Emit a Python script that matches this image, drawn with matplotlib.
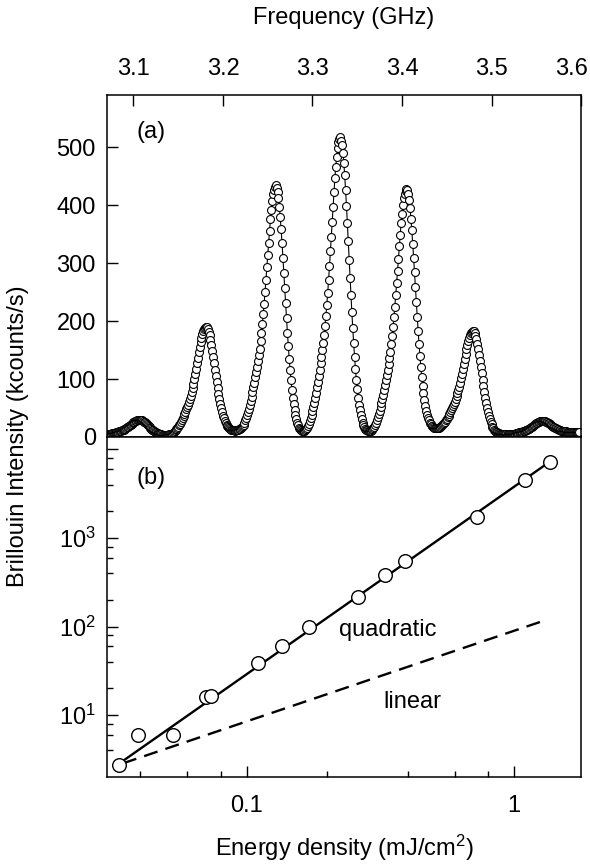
import numpy as np
import matplotlib
matplotlib.use('Agg')
import matplotlib.pyplot as plt
from matplotlib.ticker import FixedLocator, FixedFormatter, NullFormatter
from matplotlib.transforms import ScaledTranslation

plt.rcParams['font.family'] = ['Liberation Sans', 'DejaVu Sans']
plt.rcParams['mathtext.fontset'] = 'custom'
plt.rcParams['mathtext.rm'] = 'Liberation Sans'
plt.rcParams['mathtext.it'] = 'Liberation Sans:italic'

# (a) Brillouin spectrum (kcounts/s), one reading every 1 MHz starting at 3.071 GHz
freq_start = 3.071
freq_step = 0.001
spectrum = [
    # up to first small side peak (3.107 GHz)
    4.7, 4.9, 5.1, 5.4, 5.7, 6.1, 6.4, 6.8, 7.2, 7.6,
    8.1, 8.6, 9.1, 9.7, 10.2, 10.8, 11.4, 12.0, 12.7, 13.5,
    14.3, 15.3, 16.4, 17.5, 18.7, 20.0, 21.3, 22.6, 23.9, 25.1,
    26.4, 27.4, 28.3, 29.0, 29.5, 29.8, 30.0,
    29.9, 29.4, 28.8, 27.8, 26.7, 25.3, 23.9, 22.3, 20.6, 19.0,
    17.3, 15.7, 14.1, 12.6, 11.3, 10.0, 8.9, 7.9, 7.0, 6.3,
    5.7, 5.1, 4.7, 4.3, 4.0, 3.8, 3.6, 3.4, 3.7, 3.7,
    # second peak (3.181 GHz)
    3.9, 4.0, 4.4, 4.7, 5.2, 6.0, 6.9, 8.0, 9.5, 11.2,
    13.1, 15.3, 17.8, 20.2, 23.0, 26.0, 29.2, 32.7, 36.3, 39.8,
    43.8, 47.7, 51.6, 55.9, 60.6, 65.6, 71.3, 77.4, 84.3, 91.8,
    99.9, 108.7, 118.0, 127.4, 136.7, 146.1, 155.0, 163.8, 171.1, 177.5,
    182.9, 186.4, 188.7, 190.0,
    189.1, 186.3, 181.7, 175.5, 167.8, 159.0, 149.1, 138.5, 127.6, 116.4,
    105.2, 94.4, 84.0, 74.2, 65.1, 56.8, 49.4, 42.7, 36.9, 32.0,
    27.7, 24.1, 21.1, 18.7, 16.7, 15.1, 13.9, 12.9, 12.2, 11.6,
    11.2, 10.8, 11.5, 11.5, 11.9,
    # third peak (3.259 GHz)
    12.3, 13.0, 14.0, 15.1, 16.8, 18.9, 21.5, 24.9, 28.7, 33.0,
    38.1, 43.6, 49.1, 55.5, 62.3, 69.5, 77.6, 85.7, 93.7, 102.7,
    111.6, 120.5, 130.3, 140.9, 152.4, 165.1, 179.2, 194.9, 211.9, 230.2,
    250.1, 271.4, 292.6, 313.9, 335.1, 355.5, 375.5, 392.1, 406.5, 418.9,
    426.9, 432.0, 435.0,
    429.8, 423.1, 412.2, 397.5, 379.3, 358.2, 334.7, 309.6, 283.5, 256.9,
    230.5, 204.7, 180.0, 156.6, 135.1, 115.3, 97.6, 81.9, 68.1, 56.2,
    46.1, 37.6, 30.5, 24.7, 20.0, 16.2, 14.2, 12.3, 11.0, 10.4,
    10.3, 10.8, 11.6, 13.2, 15.5, 18.4,
    # central peak (3.331 GHz)
    22.3, 26.8, 31.9, 37.9, 44.6, 51.3, 59.0, 67.2, 76.0, 85.7,
    95.5, 105.3, 116.1, 126.8, 137.6, 149.5, 162.3, 176.2, 191.6, 208.6,
    227.6, 248.2, 270.3, 294.4, 320.1, 345.8, 371.5, 397.2, 421.9, 446.0,
    466.1, 483.6, 498.5, 508.2, 514.4, 518.0,
    511.4, 503.4, 490.5, 473.0, 451.4, 426.4, 398.5, 368.8, 337.8, 306.2,
    274.8, 244.2, 214.8, 187.2, 161.5, 138.1, 117.1, 98.4, 82.0, 68.0,
    55.9, 45.8, 37.4, 30.5, 24.9, 20.5, 17.0, 14.2, 12.9, 11.6,
    10.9, 10.4, 10.7, 11.1, 11.9, 13.4,
    # fifth peak (3.405 GHz)
    15.3, 17.6, 20.9, 24.6, 28.8, 33.9, 39.3, 44.8, 51.2, 57.9,
    65.1, 73.1, 81.1, 89.1, 98.0, 106.9, 115.7, 125.4, 136.0, 147.4,
    160.0, 174.0, 189.6, 206.5, 224.6, 244.4, 265.5, 286.6, 307.7, 328.8,
    349.1, 368.9, 385.4, 399.7, 412.0, 420.0, 425.0, 428.0,
    425.8, 419.4, 408.8, 394.5, 376.9, 356.4, 333.7, 309.4, 284.0, 258.3,
    232.6, 207.6, 183.6, 161.0, 140.1, 120.9, 103.8, 88.5, 75.1, 63.6,
    53.8, 45.5, 38.7, 33.0, 28.5, 24.9, 22.0, 19.7, 18.3, 17.2,
    16.3, 15.8, 15.6, 15.6, 15.7, 16.2,
    # sixth peak (3.479 GHz)
    16.9, 17.8, 19.1, 20.5, 22.2, 24.2, 26.4, 28.6, 31.2, 33.9,
    36.8, 40.0, 43.3, 46.5, 50.1, 53.6, 57.2, 61.1, 65.4, 70.0,
    75.1, 80.7, 87.0, 93.8, 101.1, 109.1, 117.6, 126.1, 134.6, 143.1,
    151.2, 159.2, 165.8, 171.6, 176.5, 179.8, 181.8, 183.0,
    182.1, 179.3, 174.7, 168.5, 160.9, 152.1, 142.3, 131.8, 120.9, 109.8,
    98.7, 87.9, 77.6, 67.8, 58.8, 50.6, 43.1, 36.6, 30.8, 25.8,
    21.6, 18.0, 15.1, 12.6, 10.7, 9.1, 7.9, 6.9, 6.1, 5.6,
    5.1, 4.8, 4.6, 4.4, 4.4, 4.3,
    # last small side peak (3.557 GHz)
    4.3, 4.2, 4.3, 4.4, 4.5, 4.6, 4.8, 5.1, 5.3, 5.6,
    5.9, 6.2, 6.6, 7.0, 7.4, 7.8, 8.3, 8.7, 9.2, 9.7,
    10.2, 10.8, 11.4, 12.0, 12.8, 13.6, 14.4, 15.4, 16.4, 17.6,
    18.8, 20.0, 21.2, 22.4, 23.5, 24.6, 25.6, 26.4, 27.1, 27.5,
    27.8, 28.0,
    27.9, 27.6, 27.1, 26.5, 25.7, 24.7, 23.7, 22.6, 21.4, 20.2,
    19.1, 17.9, 16.8, 15.8, 14.8, 13.9, 13.2, 12.5, 11.8, 11.3,
    10.9, 10.5, 10.2, 9.9, 9.7, 9.5, 9.4, 9.3, 9.2, 9.2,
    9.1, 9.1, 9.1, 9.0, 9.0, 9.0, 9.0, 9.0, 9.0, 9.0,
    9.0,
]
freq_ticks = [3.1, 3.2, 3.3, 3.4, 3.5, 3.6]
counts_ticks = [0, 100, 200, 300, 400, 500]

# (b) peak intensity vs pump energy density
energy = [0.0335, 0.0394, 0.0531, 0.0706, 0.0734, 0.1106, 0.1357,
          0.171, 0.2606, 0.328, 0.390, 0.727, 1.10, 1.36]
peak_intensity = [2.73, 5.96, 5.96, 15.9, 16.6, 38.6, 59.5,
                  98.5, 213, 385, 553, 1730, 4480, 7250]
quad_x = [0.0335, 1.36]
quad_y = [2.85, 7250]
lin_x = [0.0345, 1.30]
lin_y = [2.85, 117]

freq = freq_start + freq_step * np.arange(len(spectrum))

fig = plt.figure(figsize=(5.9, 8.66), dpi=100)
ax_a = fig.add_axes([0.1814, 0.4954, 0.8034, 0.3949])
ax_b = fig.add_axes([0.1814, 0.1028, 0.8034, 0.3926])

fs = 17

# ---- panel (a)
ax_a.plot(freq, spectrum, '-o', color='black', lw=0.8, ms=5.7,
          mfc='white', mec='black', mew=0.8)
ax_a.set_xlim(3.0705, 3.598)
ax_a.set_ylim(0, 590)
ax_a.xaxis.tick_top()
ax_a.set_xticks(freq_ticks)
ax_a.set_xticklabels([f'{t:.1f}' for t in freq_ticks])
ax_a.set_yticks(counts_ticks)
ax_a.tick_params(axis='x', which='both', direction='in', length=8, width=1,
                 labelsize=fs, pad=11)
ax_a.tick_params(axis='y', which='both', direction='in', length=8, width=1,
                 labelsize=fs, pad=8)
ax_a.text(0.0926, 0.893, '(a)', transform=ax_a.transAxes, fontsize=fs,
          ha='center', va='center')
# last top label sits a little inside the frame, as in the original
lab = ax_a.xaxis.get_majorticklabels()[-1]
lab.set_transform(lab.get_transform() + ScaledTranslation(-7 / 72, 0, fig.dpi_scale_trans))

# ---- panel (b)
ax_b.plot(quad_x, quad_y, '-', color='black', lw=1.7, zorder=2)
ax_b.plot(lin_x, lin_y, '--', color='black', lw=1.7, dashes=(6, 3.5), zorder=2)
ax_b.plot(energy, peak_intensity, 'o', ms=9.8, mfc='white', mec='black',
          mew=1.0, zorder=3)
ax_b.set_xscale('log')
ax_b.set_yscale('log')
ax_b.set_xlim(0.0301, 1.78)
ax_b.set_ylim(2.0, 13800)

ax_b.xaxis.set_major_locator(FixedLocator([0.1, 1]))
ax_b.xaxis.set_major_formatter(FixedFormatter(['0.1', '1']))
ax_b.xaxis.set_minor_locator(FixedLocator([0.04, 0.06, 0.08, 0.2, 0.4, 0.6, 0.8]))
ax_b.xaxis.set_minor_formatter(NullFormatter())
ax_b.yaxis.set_major_locator(FixedLocator([10, 100, 1000, 10000]))
ax_b.yaxis.set_major_formatter(FixedFormatter(['$10^1$', '$10^2$', '$10^3$', '']))
ax_b.yaxis.set_minor_locator(FixedLocator([4, 6, 8, 20, 40, 60, 80, 200, 400, 600, 800,
                                           2000, 4000, 6000, 8000]))
ax_b.yaxis.set_minor_formatter(NullFormatter())
ax_b.tick_params(axis='both', which='major', direction='in', length=8, width=1,
                 labelsize=fs)
ax_b.tick_params(axis='both', which='minor', direction='in', length=4.5, width=1)
ax_b.tick_params(axis='x', which='major', pad=13)
ax_b.tick_params(axis='y', which='major', pad=8)
ax_b.text(0.0926, 0.8785, '(b)', transform=ax_b.transAxes, fontsize=fs,
          ha='center', va='center')
ax_b.text(0.593, 0.432, 'quadratic', transform=ax_b.transAxes, fontsize=fs,
          ha='center', va='center')
ax_b.text(0.6434, 0.2215, 'linear', transform=ax_b.transAxes, fontsize=fs,
          ha='center', va='center')

for ax in (ax_a, ax_b):
    for sp in ax.spines.values():
        sp.set_linewidth(1.1)

x_mid = 0.1814 + 0.8034 / 2
fig.text(x_mid, 1 - 18 / 866, 'Frequency (GHz)', fontsize=fs,
         ha='center', va='center')
fig.text(x_mid, 1 - 848 / 866, 'Energy density (mJ/cm$^2$)', fontsize=fs,
         ha='center', va='center')
fig.text(0.03, 0.4965, 'Brillouin Intensity (kcounts/s)', rotation=90,
         fontsize=fs, ha='center', va='center')

fig.savefig('out.png', dpi=100)
